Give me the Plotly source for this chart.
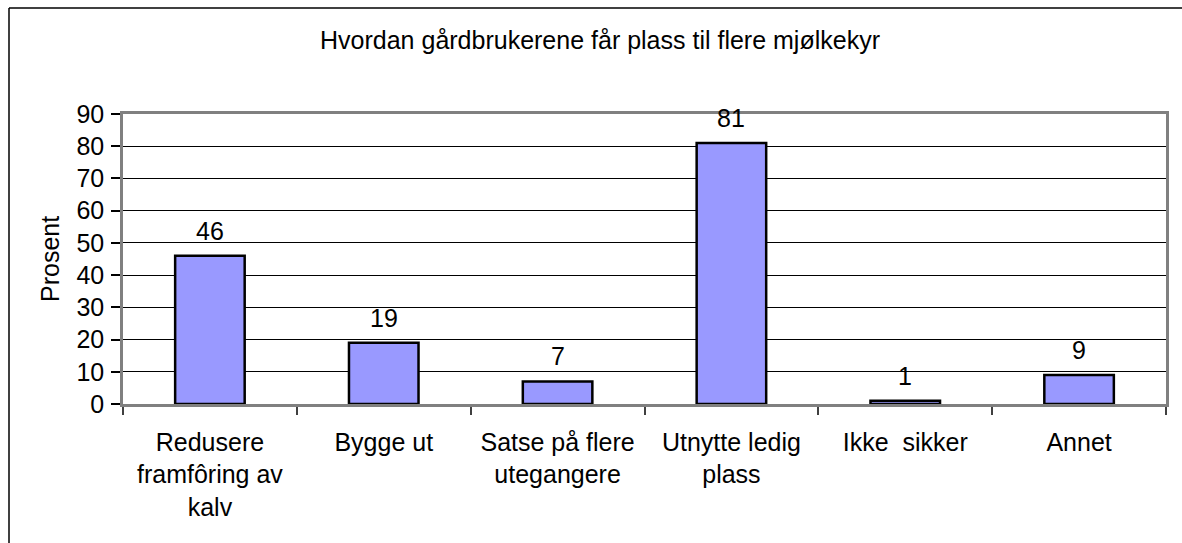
import plotly.graph_objects as go

categories = ["Redusere<br>framfôring av<br>kalv", "Bygge ut", "Satse på flere<br>utegangere",
              "Utnytte ledig<br>plass", "Ikke\u00a0 sikker", "Annet"]
values = [46, 19, 7, 81, 1, 9]
y_ticks = [0, 10, 20, 30, 40, 50, 60, 70, 80, 90]

FONT = "Liberation Sans, Arial, sans-serif"
FS = 25

fig = go.Figure()
fig.add_trace(go.Bar(
    x=categories, y=values, width=0.4,
    marker=dict(color="#9999FF", line=dict(color="black", width=2.5)),
    hoverinfo="skip",
))

annotations = []
for c, v in zip(categories, values):
    annotations.append(dict(x=c, y=v, xref="x", yref="y", text=str(v), showarrow=False,
                            yanchor="bottom", yshift=9, font=dict(family=FONT, size=FS, color="black")))
annotations.append(dict(x=-0.07, y=0.5, xref="paper", yref="paper", text="Prosent", showarrow=False,
                        textangle=-90, xanchor="center", yanchor="middle",
                        font=dict(family=FONT, size=FS, color="black")))

fx0 = (9 - 123) / 1043
fy1 = (404 - 8) / 290
fx1 = (1182 - 123) / 1043

fig.update_layout(
    width=1182, height=543,
    margin=dict(l=123, r=16, t=114, b=139, autoexpand=False),
    paper_bgcolor="white", plot_bgcolor="white",
    font=dict(family=FONT, size=FS, color="black"),
    title=dict(text="Hvordan gårdbrukerene får plass til flere mjølkekyr",
               x=600/1182, xanchor="center", xref="container",
               y=1-40/543, yanchor="middle", yref="container",
               font=dict(family=FONT, size=FS, color="black")),
    showlegend=False,
    bargap=0.6,
    annotations=annotations,
    xaxis=dict(
        type="category", tickson="boundaries", ticks="outside", ticklen=8, tickwidth=1.5,
        tickcolor="#404040", showline=True, linecolor="#808080", linewidth=2.5, mirror=True,
        showgrid=False, tickfont=dict(family=FONT, size=FS, color="black"),
        ticklabelstandoff=14, fixedrange=True,
    ),
    yaxis=dict(
        range=[0, 90], tickvals=y_ticks, ticks="outside", ticklen=9, tickwidth=1.5,
        tickcolor="black", showline=True, linecolor="#808080", linewidth=2.5, mirror=True,
        showgrid=True, gridcolor="black", gridwidth=1, zeroline=False,
        tickfont=dict(family=FONT, size=FS, color="black"), ticklabelstandoff=2,
        fixedrange=True,
    ),
    shapes=[
        dict(type="line", xref="paper", yref="paper", x0=fx0, x1=fx0, y0=-0.5, y1=fy1,
             line=dict(color="black", width=1.5), layer="below"),
        dict(type="line", xref="paper", yref="paper", x0=fx0, x1=fx1, y0=fy1, y1=fy1,
             line=dict(color="black", width=1.5), layer="below"),
    ],
)

fig.write_html("out.html", config={"displayModeBar": False},
               post_script="document.body.style.margin='0';document.body.style.overflow='hidden';"
                           "document.documentElement.style.overflow='hidden';")
